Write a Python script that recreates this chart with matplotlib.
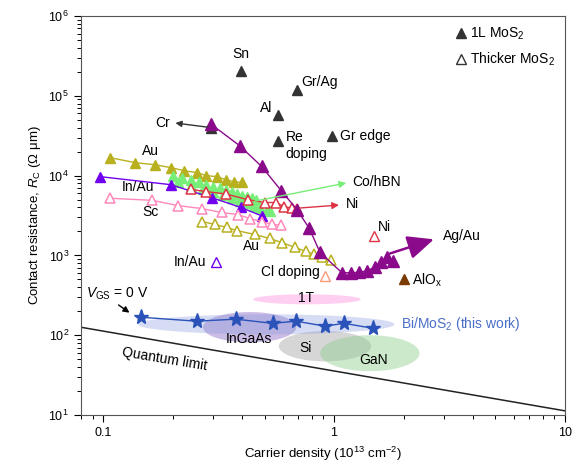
import numpy as np
import matplotlib
matplotlib.use("Agg")
import matplotlib.pyplot as plt
from matplotlib.lines import Line2D

plt.rcParams["font.family"] = ["Liberation Sans", "DejaVu Sans"]
plt.rcParams["mathtext.fontset"] = "custom"
plt.rcParams["mathtext.rm"] = "Liberation Sans"
plt.rcParams["mathtext.it"] = "Liberation Sans:italic"

# 1L MoS2, purple series (with Ag/Au arrow)
ag_x = [0.292, 0.39, 0.486, 0.59, 0.69, 0.78, 0.87, 1.08, 1.18, 1.28, 1.39, 1.51, 1.6, 1.7, 1.8]
ag_y = [44500, 23700, 13000, 6500, 3760, 2200, 1090, 610, 605, 615, 640, 720, 830, 960, 840]

# 1L Au (olive, filled)
au1_x = [0.107, 0.138, 0.167, 0.196, 0.225, 0.254, 0.28, 0.31, 0.339, 0.367, 0.398]
au1_y = [16800, 14500, 13700, 12600, 11500, 10900, 10000, 9700, 8900, 8400, 8200]

# 1L Co/hBN (green, filled) two rows
co_x1 = [0.20, 0.22, 0.24, 0.26, 0.28, 0.30, 0.32, 0.34, 0.36, 0.38, 0.40, 0.42, 0.44, 0.46]
co_y1 = [10000, 9300, 8700, 8200, 7700, 7300, 6900, 6600, 6200, 5900, 5600, 5400, 5200, 5000]
co_x2 = [0.21, 0.24, 0.27, 0.30, 0.33, 0.36, 0.39, 0.42, 0.45, 0.48, 0.51, 0.53]
co_y2 = [8200, 7500, 6800, 6200, 5700, 5200, 4800, 4500, 4200, 3900, 3700, 3550]

# 1L In/Au (violet, filled)
inau_x = [0.097, 0.196, 0.295, 0.394, 0.49]
inau_y = [9700, 7700, 5300, 4000, 3100]

# thicker Ni (red, open)
ni_x = [0.241, 0.28, 0.339, 0.423, 0.50, 0.56, 0.606, 0.657, 0.69]
ni_y = [6700, 6300, 5900, 5000, 4600, 4600, 4100, 3900, 3850]

# thicker Sc (pink, open)
sc_x = [0.107, 0.163, 0.212, 0.267, 0.326, 0.383, 0.432, 0.486, 0.537, 0.589]
sc_y = [5200, 4900, 4200, 3870, 3450, 3250, 2900, 2660, 2450, 2380]

# thicker Au (olive, open)
au2_x = [0.267, 0.304, 0.343, 0.379, 0.453, 0.527, 0.594, 0.677, 0.756, 0.819, 0.887, 0.97]
au2_y = [2660, 2450, 2240, 2050, 1830, 1630, 1450, 1260, 1120, 1030, 944, 866]

# Bi/MoS2 (this work)
bi_x = [0.146, 0.254, 0.375, 0.543, 0.684, 0.914, 1.105, 1.48]
bi_y = [168, 150, 159, 141, 150, 130, 141, 122]

# single 1L points: label, x, y
single_1l = [("Sn", 0.394, 205000), ("Gr/Ag", 0.69, 119000), ("Al", 0.57, 58000),
             ("Re", 0.57, 27000), ("Gr edge", 0.98, 31000), ("Cr", 0.292, 40000)]

quantum_x = [0.08, 10]
quantum_y = [126, 11.3]

# regions: name, center x, center y, half width (decades), half height (decades), colour, alpha
regions = [("InGaAs", 0.431, 126, 0.202, 0.19, "#8a6cc4", 0.45),
           ("Si", 0.914, 72.9, 0.20, 0.19, "#9a9a9a", 0.40),
           ("GaN", 1.43, 59.6, 0.215, 0.225, "#8fcf8f", 0.45),
           ("Bi", 0.509, 137, 0.555, 0.125, "#8c9ce0", 0.35),
           ("1T", 0.763, 282, 0.233, 0.0625, "#ffa8e6", 0.55)]

purple = "#8b0a8b"
dark = "#333333"
olive = "#b8b01e"
green = "#77ee77"
red = "#dd3344"
violet = "#7000ee"
pink = "#ff88bb"
blue = "#2a52b8"

fig = plt.figure(figsize=(5.77, 4.69), dpi=100)
ax = fig.add_axes([0.140, 0.115, 0.839, 0.851])
ax.set_xscale("log")
ax.set_yscale("log")
ax.set_xlim(0.08, 10)
ax.set_ylim(10, 1e6)

# shaded regions
t = np.linspace(0, 2 * np.pi, 200)
for name, cx, cy, hw, hh, c, a in regions:
    ex = 10 ** (np.log10(cx) + hw * np.cos(t))
    ey = 10 ** (np.log10(cy) + hh * np.sin(t))
    ax.fill(ex, ey, color=c, alpha=a, lw=0, zorder=1)

ax.plot(quantum_x, quantum_y, color="#222222", lw=1.1, zorder=2)

# series
ax.plot(au1_x, au1_y, "-^", color=olive, ms=7.5, lw=1, zorder=3)
ax.plot(co_x1, co_y1, "^", color=green, ms=6.5, lw=0, zorder=3)
ax.plot(co_x2, co_y2, "^", color=green, ms=6.5, lw=0, zorder=3)
ax.plot(inau_x, inau_y, "-^", color=violet, ms=7.5, lw=1, zorder=4)
ax.plot(ni_x, ni_y, "-^", color=red, mfc="white", ms=7.5, mew=1.1, lw=1, zorder=4)
ax.plot(sc_x, sc_y, "-^", color=pink, mfc="white", ms=7.5, mew=1.1, lw=1, zorder=4)
ax.plot(au2_x, au2_y, "-^", color=olive, mfc="white", ms=7.5, mew=1.1, lw=1, zorder=4)
ax.plot(ag_x, ag_y, "-^", color=purple, ms=8, lw=1, zorder=5)

for name, x, y in single_1l:
    ax.plot(x, y, "^", color=dark, ms=7.5, zorder=4)
ax.plot(2.0, 500, "^", color="#7a3a00", ms=7.5, zorder=4)
ax.plot(0.307, 817, "^", color=violet, mfc="white", ms=6.5, mew=1, zorder=4)
ax.plot(0.914, 546, "^", color="#ff9977", mfc="white", ms=6.5, mew=1, zorder=4)
ax.plot(1.49, 1730, "^", color=red, mfc="white", ms=6.5, mew=1, zorder=4)

ax.plot(bi_x, bi_y, "-*", color=blue, ms=11, lw=1, zorder=6)

# arrows
ax.annotate("", xy=(0.2, 46000), xytext=(0.292, 40000),
            arrowprops=dict(arrowstyle="-|>", color=dark, lw=1, mutation_scale=9), zorder=6)
ax.annotate("", xy=(1.16, 8200), xytext=(0.44, 4700),
            arrowprops=dict(arrowstyle="-|>", color=green, lw=1, mutation_scale=10), zorder=6)
ax.annotate("", xy=(1.08, 4300), xytext=(0.69, 3900),
            arrowprops=dict(arrowstyle="-|>", color=red, lw=1, mutation_scale=10), zorder=6)
ax.annotate("", xy=(2.78, 1630), xytext=(1.7, 1030),
            arrowprops=dict(arrowstyle="-|>,head_length=1.0,head_width=0.45", color=purple,
                            lw=1.8, mutation_scale=16), zorder=6)
ax.annotate("", xy=(0.133, 183), xytext=(0.114, 251),
            arrowprops=dict(arrowstyle="-|>", color="black", lw=1, mutation_scale=9), zorder=6)

fs = 10
ax.text(0.394, 330000, "Sn", fontsize=fs, ha="center", va="center")
ax.text(0.72, 150000, "Gr/Ag", fontsize=fs, ha="left", va="center")
ax.text(0.543, 71000, "Al", fontsize=fs, ha="right", va="center")
ax.text(0.618, 23700, "Re\ndoping", fontsize=fs, ha="left", va="center", linespacing=1.25)
ax.text(1.06, 31000, "Gr edge", fontsize=fs, ha="left", va="center")
ax.text(0.194, 46000, "Cr", fontsize=fs, ha="right", va="center")
ax.text(0.16, 20500, "Au", fontsize=fs, ha="center", va="center")
ax.text(0.142, 7300, "In/Au", fontsize=fs, ha="center", va="center")
ax.text(0.16, 3450, "Sc", fontsize=fs, ha="center", va="center")
ax.text(0.44, 1300, "Au", fontsize=fs, ha="center", va="center")
ax.text(0.28, 817, "In/Au", fontsize=fs, ha="right", va="center")
ax.text(0.87, 613, "Cl doping", fontsize=fs, ha="right", va="center")
ax.text(1.2, 8200, "Co/hBN", fontsize=fs, ha="left", va="center")
ax.text(1.13, 4450, "Ni", fontsize=fs, ha="left", va="center")
ax.text(1.55, 2300, "Ni", fontsize=fs, ha="left", va="center")
ax.text(2.95, 1730, "Ag/Au", fontsize=fs, ha="left", va="center")
ax.text(2.18, 487, "AlO$_\\mathrm{x}$", fontsize=fs, ha="left", va="center")
ax.text(0.756, 290, "1T", fontsize=fs, ha="center", va="center")
ax.text(0.427, 89, "InGaAs", fontsize=fs, ha="center", va="center")
ax.text(0.756, 68.8, "Si", fontsize=fs, ha="center", va="center")
ax.text(1.49, 48.7, "GaN", fontsize=fs, ha="center", va="center")
ax.text(1.96, 137, "Bi/MoS$_2$ (this work)", fontsize=fs, ha="left", va="center", color="#4a6fc8")
ax.text(0.184, 50, "Quantum limit", fontsize=fs, ha="center", va="center", rotation=-9.5)
ax.text(0.0842, 326, "$V_\\mathrm{GS}$ = 0 V", fontsize=fs, ha="left", va="center")

handles = [Line2D([], [], marker="^", color=dark, ls="none", ms=7),
           Line2D([], [], marker="^", color=dark, mfc="white", ls="none", ms=7)]
ax.legend(handles, ["1L MoS$_2$", "Thicker MoS$_2$"], loc="upper right", frameon=False,
          fontsize=fs, handlelength=0.8, handletextpad=0.3, borderaxespad=0.3,
          labelspacing=0.6)

ax.set_xticks([0.1, 1, 10])
ax.set_xticklabels(["0.1", "1", "10"])
ax.tick_params(labelsize=9, direction="out", length=5, width=0.8)
ax.tick_params(which="minor", direction="out", length=3, width=0.7)
for s in ax.spines.values():
    s.set_color("#555555")
ax.set_xlabel("Carrier density (10$^{13}$ cm$^{-2}$)", fontsize=9.5)
ax.set_ylabel("Contact resistance, $R_\\mathrm{C}$ ($\\Omega$ \u03bcm)", fontsize=9.5)

fig.savefig("out.png", dpi=100)
